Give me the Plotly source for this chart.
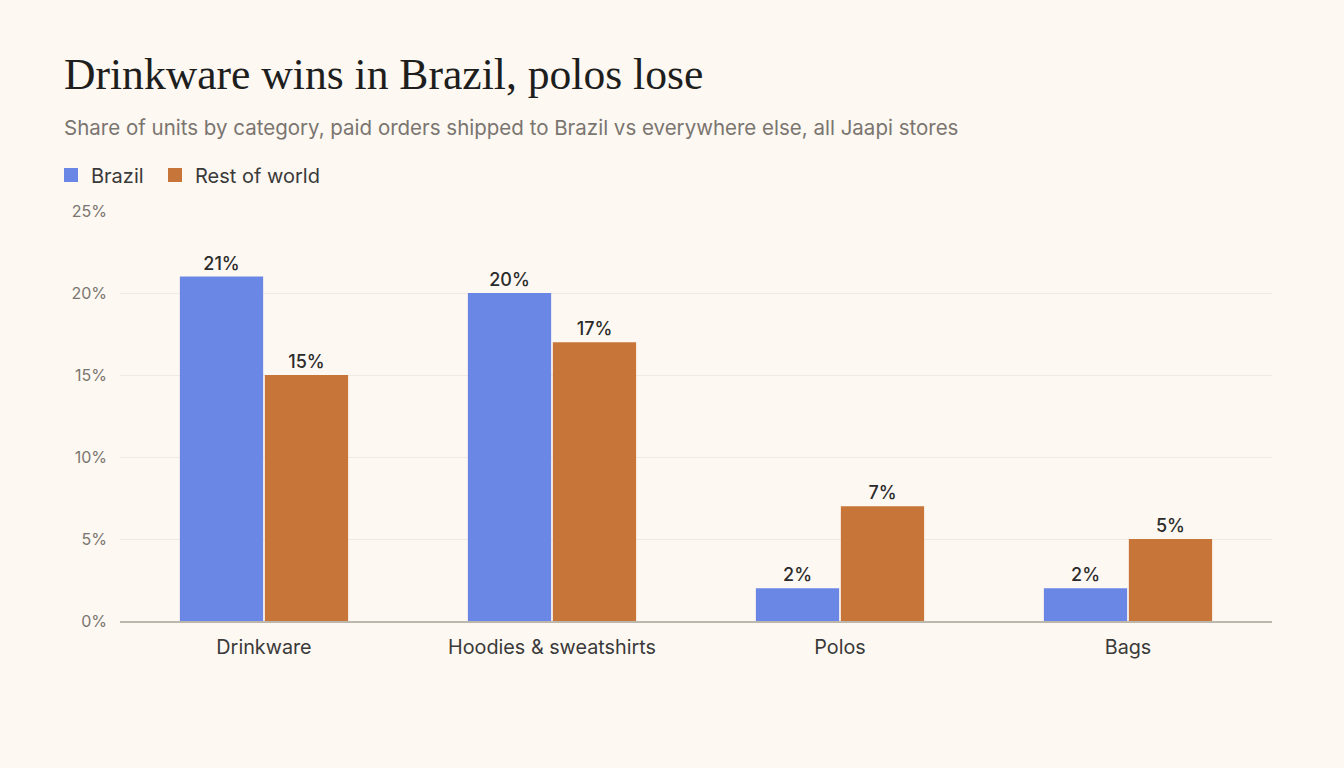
import plotly.graph_objects as go

categories = ["Drinkware", "Hoodies & sweatshirts", "Polos", "Bags"]
brazil = [21, 20, 2, 2]
rest_of_world = [15, 17, 7, 5]
y_ticks = [0, 5, 10, 15, 20, 25]

BG = "#FDF8F1"
SANS = "Inter, 'Open Sans', sans-serif"
BLUE = "#6B87E6"
ORANGE = "#C87539"

L, R, T, B = 120, 72, 211, 147
H = 768 - T - B
W = 1344 - L - R

def py(pixel_y):
    return (768 - B - pixel_y) / H

def px(pixel_x):
    return (pixel_x - L) / W

fig = go.Figure()
for name, vals, col in [("Brazil", brazil, BLUE), ("Rest of world", rest_of_world, ORANGE)]:
    fig.add_trace(go.Bar(
        x=categories, y=vals, name=name, legendgroup=name, showlegend=False,
        marker=dict(color=col, line=dict(width=0)),
        text=[f"{v}%" for v in vals], textposition="outside",
        textfont=dict(family=SANS, size=18, color="#2B2B2B", weight=500),
        cliponaxis=False,
    ))
# legend entries with larger square swatches, each in its own legend box
for name, col, leg in [("Brazil", BLUE, "legend"), ("Rest of world", ORANGE, "legend2")]:
    fig.add_trace(go.Scatter(
        x=[None], y=[None], mode="markers", name=name, legendgroup=name,
        marker=dict(symbol="square", size=14, color=col), showlegend=True, legend=leg,
    ))

legend_common = dict(orientation="h", y=py(175), xanchor="left", yanchor="middle",
                     font=dict(family=SANS, size=20, color="#3A3A3A"),
                     bgcolor="rgba(0,0,0,0)")

fig.update_layout(
    width=1344, height=768,
    margin=dict(l=L, r=R, t=T, b=B),
    paper_bgcolor=BG, plot_bgcolor=BG,
    barmode="group", bargap=0.41, bargroupgap=0.02,
    showlegend=True,
    legend=dict(x=px(51), **legend_common),
    legend2=dict(x=px(155), **legend_common),
    annotations=[
        dict(text="Drinkware wins in Brazil, polos lose", xref="paper", yref="paper",
             x=px(62), y=py(74), xanchor="left", yanchor="middle", showarrow=False,
             font=dict(family="'Liberation Serif', 'DejaVu Serif', serif", size=43.6, color="#1E1E1E")),
        dict(text="Share of units by category, paid orders shipped to Brazil vs everywhere else, all Jaapi stores",
             xref="paper", yref="paper", x=px(62), y=py(127), xanchor="left", yanchor="middle",
             showarrow=False, font=dict(family=SANS, size=20.5, color="#7A7570")),
    ],
)
fig.update_xaxes(
    showgrid=False, showline=True, linecolor="#BDB6AD", linewidth=1.5,
    tickfont=dict(family=SANS, size=19.8, color="#3A3A3A"), ticks="", ticklabelstandoff=7,
)
fig.update_yaxes(
    range=[0, 25], tickvals=y_ticks, ticktext=[f"{v}%" for v in y_ticks],
    showgrid=True, gridcolor="#F0EAE1", gridwidth=1, zeroline=False,
    tickfont=dict(family=SANS, size=16, color="#7A7570"), ticks="", showline=False,
    ticklabelstandoff=12,
)

fig.write_html("out.html")
